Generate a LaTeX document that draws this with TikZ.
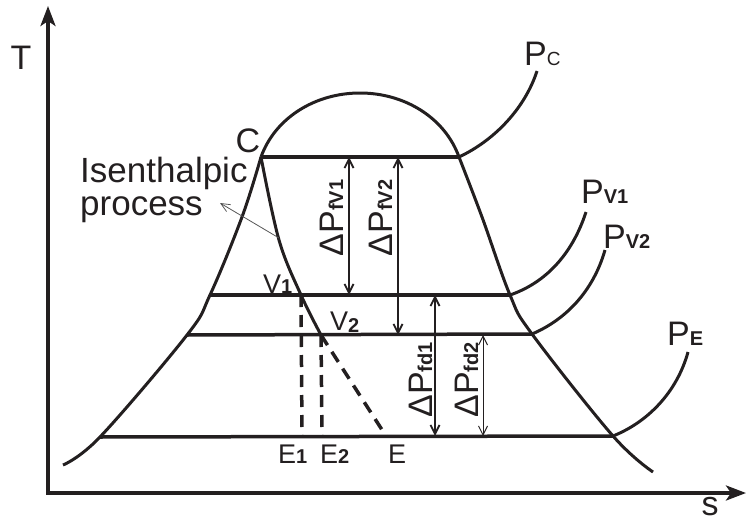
\documentclass[tikz,border=0pt]{standalone}
\usepackage{fontspec}
\setmainfont{Liberation Sans}
\usetikzlibrary{arrows.meta}
\definecolor{ink}{HTML}{231F20}
\definecolor{pt}{HTML}{555555}
\newcommand{\lsub}[1]{{\fontsize{20}{20}\selectfont\bfseries #1}}
\newcommand{\nsub}[1]{{\fontsize{19}{19}\selectfont #1}}
\tikzset{
  dome/.style={line width=3pt,draw=ink},
  hl/.style={line width=3.5pt,draw=ink},
  dsh/.style={line width=3.5pt,draw=ink,dash pattern=on 12pt off 8pt},
  dim/.style={{Straight Barb[length=9pt,width=9pt]}-{Straight Barb[length=9pt,width=9pt]},line width=1.8pt,draw=ink},
  lab/.style={font=\fontsize{34}{33}\selectfont,text=ink,inner sep=0pt},
  slab/.style={font=\fontsize{27}{27}\selectfont,text=ink,inner sep=0pt},
}

\begin{document}
\begin{tikzpicture}[x=1pt,y=-1pt]
\useasboundingbox (0,0) rectangle (747,522);
% ---- axes ----
\coordinate (Ttip) at (48,6);
\coordinate (O) at (48,493);
\coordinate (stip) at (746,493);
\draw[line width=3.5pt,draw=ink,{Stealth[length=20pt,width=15pt,inset=5pt]}-{Stealth[length=20pt,width=15pt,inset=5pt]}]
  (Ttip) -- (O) -- (stip);
\node[lab] (T) at (21,58) {T};
\node[lab,anchor=base] (s) at (710,515) {s};

% ---- saturation dome ----
\coordinate (C) at (261,157);  \coordinate (R0) at (459,157);
\coordinate (L1) at (210,295); \coordinate (R1) at (510,295);
\coordinate (L2) at (187,335); \coordinate (R2) at (532,334);
\coordinate (L3) at (100,437); \coordinate (R3) at (613,436);
\draw[dome] plot[smooth,tension=0.6] coordinates {(63,465) (100,437) (187,335) (210,295) (242,217) (261,157)};
\draw[dome] plot[smooth,tension=0.6] coordinates {(459,157) (482,217) (510,295) (532,334) (613,436) (653,472)};
\draw[dome] (C) .. controls (275,118) and (315,93) .. (360,93) .. controls (405,93) and (445,118) .. (R0);
\draw[hl] (C) -- (R0);
\draw[hl] (L1) -- (R1);
\draw[hl] (L2) -- (R2);
\draw[hl] (L3) -- (R3);

% ---- isobars ----
\coordinate (pc) at (537,71);  \coordinate (pv1) at (586,212);
\coordinate (pv2) at (605,250); \coordinate (pe) at (688,352);
\draw[dome] (R0) .. controls (495,140) and (525,108) .. (pc);
\draw[dome] (R1) .. controls (545,283) and (572,255) .. (pv1);
\draw[dome] (R2) .. controls (565,320) and (593,292) .. (pv2);
\draw[dome] (R3) .. controls (648,422) and (677,392) .. (pe);
\node[lab,anchor=base west] (Pc) at (524,65) {P\nsub{C}};
\node[lab,anchor=base west] (Pv1) at (581,203) {P\lsub{V1}};
\node[lab,anchor=base west] (Pv2) at (603,248) {P\lsub{V2}};
\node[lab,anchor=base west] (Pe) at (667,345) {P\lsub{E}};

% ---- throttling ----
\coordinate (V1) at (301,295); \coordinate (V2) at (321,335);
\coordinate (E1) at (302,436); \coordinate (E2) at (322,436);
\coordinate (E) at (386,436);
\draw[dome] plot[smooth,tension=0.6] coordinates {(261,157) (279,240) (301,295) (321,335)};
\draw[dsh] (V2) -- (E);
\draw[dsh] (V1) -- (E1);
\draw[dsh] (V2) -- (E2);
\node[lab,anchor=base] (Cl) at (248,152) {C};
\node[slab,anchor=base west] (V1l) at (263,293) {V\lsub{1}};
\node[slab,anchor=base west] (V2l) at (330,330) {V\raisebox{-2pt}{\lsub{2}}};
\node[slab,anchor=base west] (E1l) at (278,463) {E\lsub{1}};
\node[slab,anchor=base west] (E2l) at (320,463) {E\lsub{2}};
\node[slab,anchor=base west] (El) at (388,463) {E};

\node[lab,align=left,anchor=base west,font=\fontsize{35}{33}\selectfont] (iso) at (80,215) {Isenthalpic\\process};
\coordinate (ipt) at (279,238);
\coordinate (itip) at (220,203);
\draw[pt,line width=0.8pt,-{Straight Barb[length=9pt,width=8pt]}] (ipt) -- (itip);

% ---- pressure drops ----
\coordinate (f1a) at (349,157); \coordinate (f1b) at (349,295);
\coordinate (f2a) at (398,157); \coordinate (f2b) at (398,335);
\coordinate (d1a) at (435,295); \coordinate (d1b) at (435,436);
\coordinate (d2a) at (483,335); \coordinate (d2b) at (483,436);
\draw[dim] (f1a) -- (f1b);
\draw[dim] (f2a) -- (f2b);
\draw[dim] (d1a) -- (d1b);
\draw[dim,line width=1pt] (d2a) -- (d2b);
\node[lab,rotate=90,anchor=base] (dfv1) at (343,218) {ΔP\lsub{fV1}};
\node[lab,rotate=90,anchor=base] (dfv2) at (392,218) {ΔP\lsub{fV2}};
\node[lab,rotate=90,anchor=base] (dfd1) at (432,380) {ΔP\lsub{fd1}};
\node[lab,rotate=90,anchor=base] (dfd2) at (478,380) {ΔP\lsub{fd2}};
\end{tikzpicture}
\end{document}
